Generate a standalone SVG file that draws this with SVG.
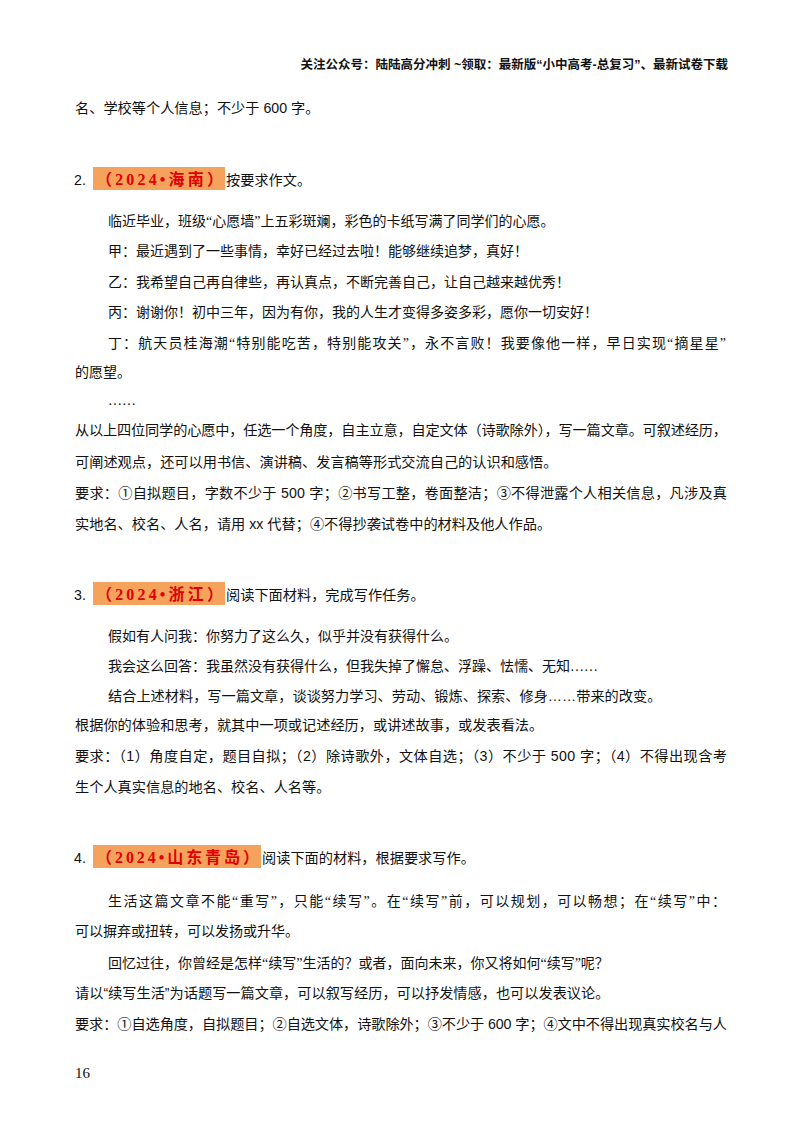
<svg xmlns="http://www.w3.org/2000/svg" width="800" height="1132" viewBox="0 0 800 1132">
<style>
.t{font-family:"Liberation Sans","Noto Sans CJK SC",sans-serif;font-size:14.2px;fill:#111}
.k{font-family:"Liberation Serif","Noto Sans CJK SC",serif;font-size:14px;fill:#111}
.h{font-family:"Liberation Sans","Noto Sans CJK SC",sans-serif;font-size:12.5px;font-weight:bold;fill:#111}
.r{font-family:"Liberation Serif","Noto Sans CJK SC",serif;font-size:16px;font-weight:bold;fill:#e00000}
.hl{fill:#f5a35c}
</style>
<rect width="800" height="1132" fill="#fff"/>
<text class="h" x="728" y="69" text-anchor="end">关注公众号：陆陆高分冲刺 ~领取：最新版“小中高考-总复习”、最新试卷下载</text>
<text class="t" x="75" y="113">名、学校等个人信息；不少于 600 字。</text>

<text class="t" x="74" y="185">2.</text>
<rect class="hl" x="93" y="167" width="132" height="23"/>
<text class="r" x="96" y="185" textLength="127">（2024•海南）</text>
<text class="t" x="226" y="185">按要求作文。</text>
<text class="k" x="108" y="226">临近毕业，班级“心愿墙”上五彩斑斓，彩色的卡纸写满了同学们的心愿。</text>
<text class="k" x="108" y="256">甲：最近遇到了一些事情，幸好已经过去啦！能够继续追梦，真好！</text>
<text class="k" x="108" y="287">乙：我希望自己再自律些，再认真点，不断完善自己，让自己越来越优秀！</text>
<text class="k" x="108" y="317">丙：谢谢你！初中三年，因为有你，我的人生才变得多姿多彩，愿你一切安好！</text>
<text class="k" x="108" y="348" textLength="618">丁：航天员桂海潮“特别能吃苦，特别能攻关”，永不言败！我要像他一样，早日实现“摘星星”</text>
<text class="k" x="75" y="377">的愿望。</text>
<text class="k" x="108" y="405">……</text>
<text class="t" x="75" y="435" textLength="652">从以上四位同学的心愿中，任选一个角度，自主立意，自定文体（诗歌除外），写一篇文章。可叙述经历，</text>
<text class="t" x="75" y="467">可阐述观点，还可以用书信、演讲稿、发言稿等形式交流自己的认识和感悟。</text>
<text class="t" x="75" y="498" textLength="652">要求：①自拟题目，字数不少于  500  字；②书写工整，卷面整洁；③不得泄露个人相关信息，凡涉及真</text>
<text class="t" x="75" y="529">实地名、校名、人名，请用 xx 代替；④不得抄袭试卷中的材料及他人作品。</text>

<text class="t" x="74" y="600">3.</text>
<rect class="hl" x="93" y="582" width="132" height="23"/>
<text class="r" x="96" y="600" textLength="127">（2024•浙江）</text>
<text class="t" x="226" y="600">阅读下面材料，完成写作任务。</text>
<text class="k" x="108" y="641">假如有人问我：你努力了这么久，似乎并没有获得什么。</text>
<text class="k" x="108" y="671">我会这么回答：我虽然没有获得什么，但我失掉了懈怠、浮躁、怯懦、无知……</text>
<text class="t" x="108" y="701">结合上述材料，写一篇文章，谈谈努力学习、劳动、锻炼、探索、修身……带来的改变。</text>
<text class="t" x="75" y="730">根据你的体验和思考，就其中一项或记述经历，或讲述故事，或发表看法。</text>
<text class="t" x="75" y="761" textLength="652">要求：（1）角度自定，题目自拟；（2）除诗歌外，文体自选；（3）不少于 500 字；（4）不得出现含考</text>
<text class="t" x="75" y="792">生个人真实信息的地名、校名、人名等。</text>

<text class="t" x="74" y="863">4.</text>
<rect class="hl" x="93" y="845" width="168" height="23"/>
<text class="r" x="96" y="863" textLength="163">（2024•山东青岛）</text>
<text class="t" x="262" y="863">阅读下面的材料，根据要求写作。</text>
<text class="k" x="108" y="906" textLength="618">生活这篇文章不能“重写”，只能“续写”。在“续写”前，可以规划，可以畅想；在“续写”中：</text>
<text class="k" x="75" y="936">可以摒弃或扭转，可以发扬或升华。</text>
<text class="k" x="108" y="968">回忆过往，你曾经是怎样“续写”生活的？或者，面向未来，你又将如何“续写”呢？</text>
<text class="t" x="75" y="998">请以“续写生活”为话题写一篇文章，可以叙写经历，可以抒发情感，也可以发表议论。</text>
<text class="t" x="75" y="1029" textLength="652">要求：①自选角度，自拟题目；②自选文体，诗歌除外；③不少于 600 字；④文中不得出现真实校名与人</text>
<text class="k" x="75" y="1078" style="font-size:15px">16</text>
</svg>
